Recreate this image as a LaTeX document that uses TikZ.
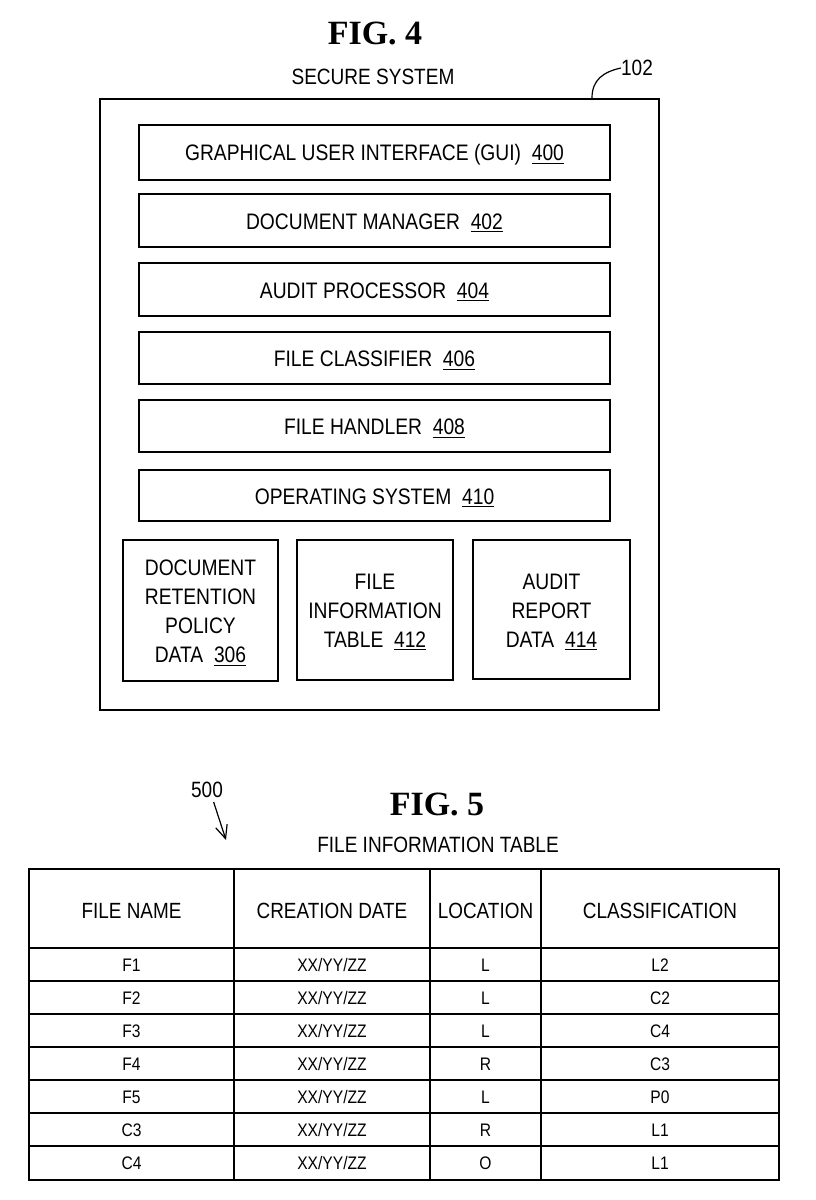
\documentclass[tikz,border=0pt]{standalone}
\usepackage{fontspec}
\setmainfont{Liberation Sans}
\newfontfamily\narrowfont[FakeStretch=0.86]{Liberation Sans}
\newfontfamily\figfont{Liberation Serif}
\usetikzlibrary{fit,arrows.meta}
\begin{document}
\begin{tikzpicture}[x=0.75pt,y=-0.75pt,
  box/.style={draw, line width=1.5pt, inner sep=0pt},
  boxtxt/.style={inner sep=0pt, align=center, yshift=-1.8pt,
              font=\narrowfont\fontsize{16.8}{21.75}\selectfont},
  lbl/.style={inner sep=0pt, font=\narrowfont\fontsize{16.6}{16}\selectfont},
  figlbl/.style={inner sep=0pt, font=\figfont\bfseries\fontsize{25.5}{30}\selectfont},
  hcell/.style={inner sep=0pt, font=\narrowfont\fontsize{16.5}{16}\selectfont},
  cell/.style={inner sep=0pt, font=\narrowfont\fontsize{13.6}{13}\selectfont},
  tline/.style={line width=1.2pt},
  lead/.style={line width=0.9pt}]
\useasboundingbox (0,0) rectangle (815,1200);

% ---------- FIG. 4 ----------
\node[figlbl] (fig4) at (375,33) {FIG. 4};
\node[lbl] (sstitle) at (373,77) {SECURE SYSTEM};
\node[box, fit={(100,99) (659,710)}] (sys) {};

\node[box, fit={(139,125) (610,180)}] (gui) {};
\node[boxtxt] (gui-t) at (gui) {GRAPHICAL USER INTERFACE (GUI)\ \ \underline{400}};
\node[box, fit={(139,194) (610,247)}] (dm) {};
\node[boxtxt] (dm-t) at (dm) {DOCUMENT MANAGER\ \ \underline{402}};
\node[box, fit={(139,263) (610,316)}] (ap) {};
\node[boxtxt] (ap-t) at (ap) {AUDIT PROCESSOR\ \ \underline{404}};
\node[box, fit={(139,332) (610,384)}] (fc) {};
\node[boxtxt] (fc-t) at (fc) {FILE CLASSIFIER\ \ \underline{406}};
\node[box, fit={(139,400) (610,452)}] (fh) {};
\node[boxtxt] (fh-t) at (fh) {FILE HANDLER\ \ \underline{408}};
\node[box, fit={(139,470) (610,521)}] (os) {};
\node[boxtxt] (os-t) at (os) {OPERATING SYSTEM\ \ \underline{410}};

\node[box, fit={(123,540) (278,681)}] (drp) {};
\node[boxtxt] (drp-t) at (drp) {DOCUMENT\\RETENTION\\POLICY\\DATA\ \ \underline{306}};
\node[box, fit={(297,540) (453,680)}] (fit412) {};
\node[boxtxt] (fit412-t) at (fit412) {FILE\\INFORMATION\\TABLE\ \ \underline{412}};
\node[box, fit={(473,540) (630,679)}] (ard) {};
\node[boxtxt] (ard-t) at (ard) {AUDIT\\REPORT\\DATA\ \ \underline{414}};

\node[lbl] (l102) at (637,68) {102};
\coordinate (k102) at (592,0);
\draw[lead] (sys.north -| k102) .. controls (592,80) and (603,72) .. (l102.west);

% ---------- FIG. 5 ----------
\node[figlbl] (fig5) at (437,804) {FIG. 5};
\node[lbl] (fittitle) at (438,845) {FILE INFORMATION TABLE};
\node[lbl] (l500) at (207,790) {500};
\coordinate (a500) at (226,840);
\draw[lead, -{Straight Barb[length=10pt,width=9pt]}] ([xshift=5pt,yshift=-3pt]l500.south) -- (a500);

\node[draw, tline, inner sep=0pt, fit={(29,869) (779,1180)}] (tbl) {};
\foreach \xx in {234,430,541} \draw[tline] (\xx,869) -- (\xx,1180);
\foreach \yy in {948,981,1014,1047,1080,1113,1146} \draw[tline] (29,\yy) -- (779,\yy);

\node[hcell] (h1) at (131.5,911) {FILE NAME};
\node[hcell] (h2) at (332,911) {CREATION DATE};
\node[hcell] (h3) at (485.5,911) {LOCATION};
\node[hcell] (h4) at (660,911) {CLASSIFICATION};

\foreach \n/\yc/\a/\c/\d in {1/965/F1/L/L2, 2/998/F2/L/C2, 3/1031/F3/L/C4, 4/1064/F4/R/C3,
                             5/1097/F5/L/P0, 6/1130/C3/R/L1, 7/1163/C4/O/L1}{
  \node[cell] (r\n a) at (131.5,\yc) {\a};
  \node[cell] (r\n b) at (332,\yc) {XX/YY/ZZ};
  \node[cell] (r\n c) at (485.5,\yc) {\c};
  \node[cell] (r\n d) at (660,\yc) {\d};
}
\end{tikzpicture}
\end{document}
